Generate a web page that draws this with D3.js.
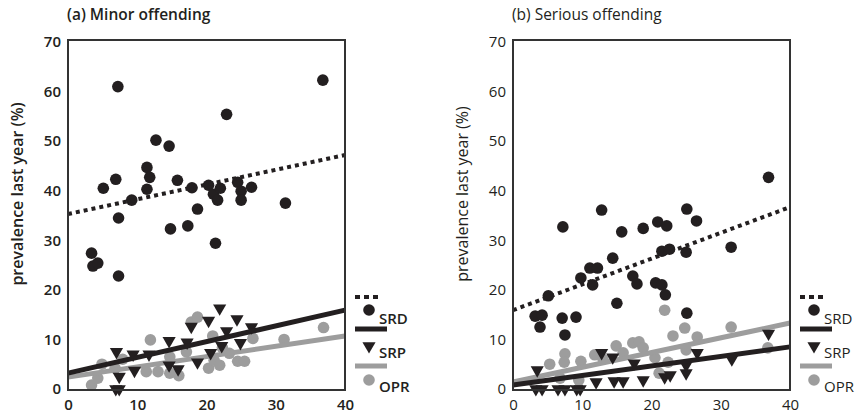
<!DOCTYPE html>
<html>
<head>
<meta charset="utf-8">
<script src="https://cdn.jsdelivr.net/npm/d3@7"></script>
<style>
  body { margin: 0; background: #fff; }
  text { font-family: "Open Sans", "Noto Sans", sans-serif; fill: #231f20; }
</style>
</head>
<body>
<div id="chart"></div>
<script>
// values: [x, prevalence %]
var minorSRD = [[7.2,61],[36.8,62.3],[22.9,55.4],[12.7,50.2],[14.6,49],[11.4,44.7],[11.8,42.7],[6.9,42.3],
  [5.1,40.5],[11.4,40.3],[15.8,42.1],[17.9,40.6],[20.3,41.1],[21,39.3],[22,40.5],[21.6,38.1],[24.5,41.7],
  [25,39.9],[26.5,40.7],[25,38.1],[31.4,37.5],[9.2,38.1],[18.7,36.3],[14.8,32.3],[17.3,32.9],[7.3,34.5],
  [21.3,29.4],[3.4,27.4],[3.6,24.8],[4.3,25.4],[7.3,22.8]];
var minorSRP = [[7.0,7.5],[9.4,7.0],[11.7,7.0],[7.4,2.5],[9.6,3.7],[6.9,0],[7.4,0],[14.6,9.7],[17.2,9.4],
  [17.8,12.6],[20.3,13.8],[21.9,16.3],[24.4,14.1],[22.9,11.7],[26.5,12.5],[22.2,8.7],[24.9,9.3],[14.6,4.8],
  [15.9,4.0],[18.7,5.4],[20.6,7.3]];
var minorOPR = [[3.4,0.8],[4.3,2.2],[4.9,5.0],[6.8,4.2],[7.9,6.0],[11.9,9.9],[11.3,3.5],[13,3.5],[14.7,3.2],
  [16,2.7],[14.7,6.5],[17.1,7.5],[17.8,13.5],[18.7,14.5],[20.9,10.7],[20.3,4.2],[21.1,5.8],[21.9,4.8],
  [23.3,7.2],[24.5,5.6],[25.5,5.6],[26.7,10.2],[31.2,10],[36.9,12.4],[22.3,8.3]];

var seriousSRD = [[12.8,36.1],[25.1,36.3],[7.2,32.7],[15.7,31.7],[18.8,32.4],[20.9,33.7],[22.2,32.9],
  [26.5,33.9],[31.5,28.6],[36.9,42.7],[14.4,26.4],[11.1,24.4],[12.2,24.4],[9.8,22.4],[11.5,21],[5.1,18.8],
  [3.2,14.7],[4.2,14.9],[3.9,12.5],[7.1,14.3],[9.1,14.5],[7.5,10.9],[15,17.3],[17.3,22.8],[17.9,21.2],
  [20.6,21.4],[21.5,21],[22,19],[21.5,27.8],[22.6,28.2],[25,27.6],[25.1,15.3]];
var seriousSRP = [[3.5,3.8],[3.3,0],[4.2,0],[6.5,0],[7.5,0],[9.2,0],[9.7,0],[12,1.4],[12.8,7.3],[14.4,6.4],
  [14.6,1.6],[15.9,1.6],[17.5,5.2],[18.8,1.8],[21.9,2.4],[22.7,2.8],[25,3.2],[25,4.8],[26.6,7.3],[31.6,6],
  [36.9,11.2]];
var seriousOPR = [[5.3,5],[7.5,7.1],[7.4,5.4],[6.8,2.2],[9.8,5.6],[9.5,1.8],[11.8,6.9],[13,6],[14.9,8.7],
  [15.9,7.3],[17.3,9.3],[18.2,9.5],[18.8,8.3],[20.5,6.3],[21.1,3.2],[21.9,15.9],[22.4,5.4],[23.1,10.7],
  [24.8,12.3],[25,7.9],[26.6,10.5],[31.5,12.5],[36.8,8.3]];

// fitted lines: value at x = 0 and x = 40
var minorTrendSRD = [35.3, 47.2];
var minorTrendSRP = [3.2, 15.9];
var minorTrendOPR = [2.4, 10.7];
var seriousTrendSRD = [15.9, 36.7];
var seriousTrendSRP = [0.8, 8.5];
var seriousTrendOPR = [1.4, 13.3];

var xTicks = [0, 10, 20, 30, 40];
var yTicks = [0, 10, 20, 30, 40, 50, 60, 70];
var legendLabels = ["SRD", "SRP", "OPR"];

var black = "#231f20", grey = "#9d9d9d";

var svg = d3.select("#chart").append("svg")
  .attr("width", 860)
  .attr("height", 417);

function drawPanel(left, title, bold, srd, srp, opr, tSRD, tSRP, tOPR) {
  var x = d3.scaleLinear().domain([0, 40]).range([left, left + 277]);
  var y = d3.scaleLinear().domain([0, 70]).range([389, 42]);
  var weight = bold ? "600" : "400";

  svg.append("text")
    .attr("x", left - 1)
    .attr("y", 20)
    .style("font-size", "15.5px")
    .style("font-weight", weight)
    .text(title);

  // y label
  svg.append("text")
    .attr("transform", "translate(" + (left - 45) + ",194) rotate(-90)")
    .attr("text-anchor", "middle")
    .style("font-size", "16px")
    .style("font-weight", weight)
    .text("prevalence last year (%)");

  var yAxis = d3.axisLeft(y).tickValues(yTicks).tickSize(0).tickPadding(7);
  var gy = svg.append("g").attr("transform", "translate(" + left + ",0)").call(yAxis);
  gy.select(".domain").remove();
  gy.selectAll("text").style("font-size", "15px").style("font-weight", weight)
    .style("font-family", '"Open Sans", sans-serif').attr("fill", black);

  var xAxis = d3.axisBottom(x).tickValues(xTicks).tickSize(0).tickPadding(9);
  var gx = svg.append("g").attr("transform", "translate(0,390)").call(xAxis);
  gx.select(".domain").remove();
  gx.selectAll("text").style("font-size", "15px").style("font-weight", weight)
    .style("font-family", '"Open Sans", sans-serif').attr("fill", black);

  // trend lines
  function trend(vals, color, dash) {
    svg.append("line")
      .attr("x1", x(0)).attr("y1", y(vals[0]))
      .attr("x2", x(40)).attr("y2", y(vals[1]))
      .attr("stroke", color)
      .attr("stroke-width", dash ? 4 : 5)
      .attr("stroke-dasharray", dash ? "4,4" : null);
  }

  var tri = d3.symbol().type(d3.symbolTriangle).size(75);

  // points
  svg.append("g").selectAll("circle")
    .data(opr).enter().append("circle")
    .attr("cx", d => x(d[0])).attr("cy", d => y(d[1]))
    .attr("r", 5.8).attr("fill", grey);

  trend(tOPR, grey, false);

  svg.append("g").selectAll("path")
    .data(srp).enter().append("path")
    .attr("d", tri)
    .attr("transform", d => "translate(" + x(d[0]) + "," + y(d[1]) + ") rotate(180)")
    .attr("fill", black);

  trend(tSRP, black, false);

  svg.append("g").selectAll("circle")
    .data(srd).enter().append("circle")
    .attr("cx", d => x(d[0])).attr("cy", d => y(d[1]))
    .attr("r", 5.8).attr("fill", black);

  trend(tSRD, black, true);

  // frame
  svg.append("rect")
    .attr("x", left).attr("y", 40)
    .attr("width", 277).attr("height", 350)
    .attr("fill", "none")
    .attr("stroke", "#333")
    .attr("stroke-width", 2);

  // legend
  var lx = left + 287;
  svg.append("line").attr("x1", lx).attr("x2", lx + 27).attr("y1", 297).attr("y2", 297)
    .attr("stroke", black).attr("stroke-width", 4).attr("stroke-dasharray", "5,4");
  svg.append("circle").attr("cx", lx + 14).attr("cy", 310).attr("r", 5.8).attr("fill", black);
  svg.append("line").attr("x1", lx).attr("x2", lx + 32).attr("y1", 329).attr("y2", 329)
    .attr("stroke", black).attr("stroke-width", 5);
  svg.append("path").attr("d", tri)
    .attr("transform", "translate(" + (lx + 14) + ",346) rotate(180)").attr("fill", black);
  svg.append("line").attr("x1", lx).attr("x2", lx + 32).attr("y1", 366).attr("y2", 366)
    .attr("stroke", grey).attr("stroke-width", 5);
  svg.append("circle").attr("cx", lx + 14).attr("cy", 380).attr("r", 5.8).attr("fill", grey);

  svg.selectAll(null)
    .data(legendLabels).enter().append("text")
    .attr("x", lx + 24)
    .attr("y", (d, i) => 324 + i * 34)
    .style("font-size", "15px")
    .style("font-weight", weight)
    .text(d => d);
}

drawPanel(68, "(a) Minor offending", true, minorSRD, minorSRP, minorOPR,
  minorTrendSRD, minorTrendSRP, minorTrendOPR);
drawPanel(513, "(b) Serious offending", false, seriousSRD, seriousSRP, seriousOPR,
  seriousTrendSRD, seriousTrendSRP, seriousTrendOPR);
</script>
</body>
</html>
